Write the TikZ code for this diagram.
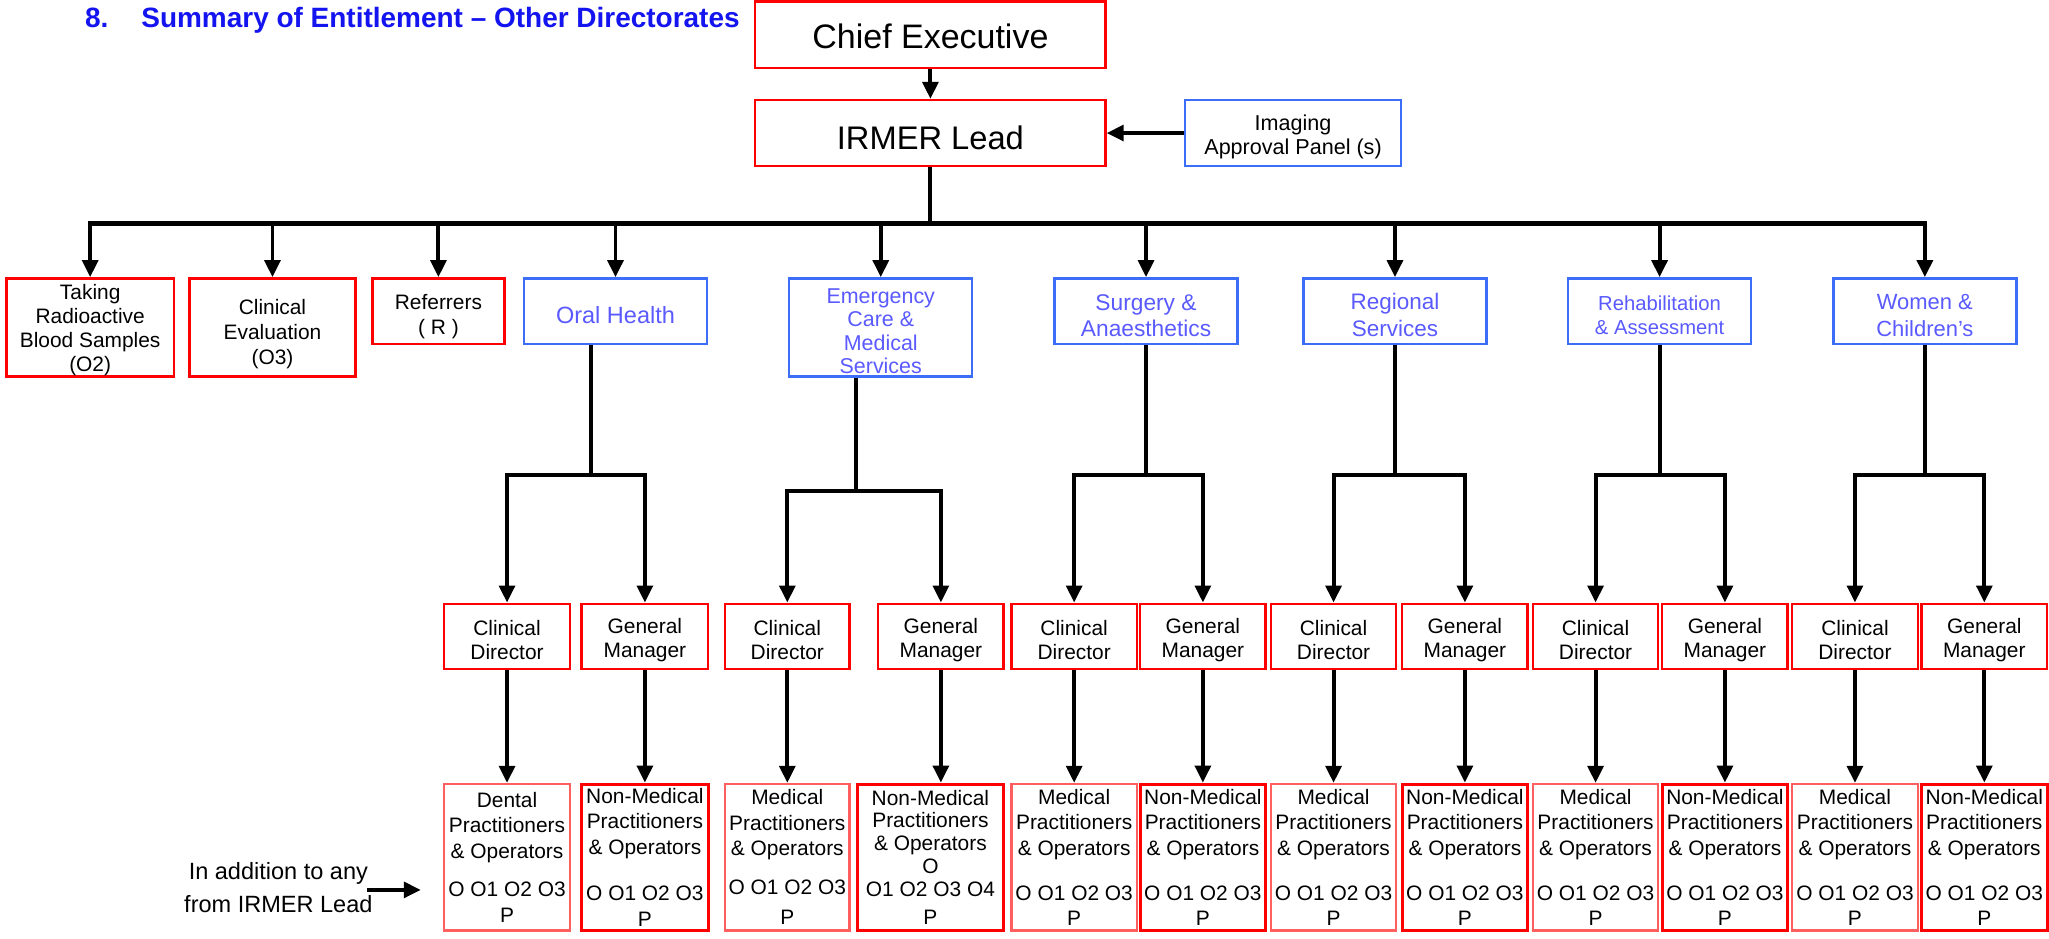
\documentclass[tikz,border=0pt]{standalone}
\usepackage{fontspec}
\setmainfont{Liberation Sans}
\usetikzlibrary{arrows.meta}
\definecolor{boxred}{RGB}{255,0,0}
\definecolor{lightred}{RGB}{255,95,95}
\definecolor{boxblue}{RGB}{60,110,250}
\definecolor{bluetext}{RGB}{90,90,255}
\definecolor{titleblue}{RGB}{20,20,240}
\newcommand\setfs[2]{\fontsize{#1}{#2}\selectfont}
\newcommand\dn[1]{\rule{0pt}{\dimexpr.75em+#1\relax}}
\begin{document}
\begin{tikzpicture}[x=1pt,y=-1pt,
 box/.style={draw, line width=1.8pt, inner sep=0pt, align=center, text=black},
 txtdown/.style={execute at begin node={\rule{0pt}{\dimexpr.75em+#1\relax}}},
 redbox/.style={box, draw=boxred},
 bluebox/.style={box, draw=boxblue, text=bluetext},
 lightbox/.style={box, draw=lightred},
 topbox/.style={minimum height=75pt},
 shortbox/.style={minimum height=50pt},
 dirbox/.style={bluebox, minimum width=140pt, shortbox},
 cgbox/.style={redbox, minimum width=96pt, minimum height=50pt, font=\setfs{16}{18.5}},
 botbox/.style={minimum width=96pt, minimum height=112pt, font=\setfs{16}{19.5}},
 medbox/.style={lightbox, botbox},
 nmbox/.style={redbox, botbox, line width=2.2pt},
 arr/.style={line width=3pt, -{Triangle[length=13pt,width=12pt]}},
 ln/.style={line width=3.1pt},
 busln/.style={line width=3.8pt},
]
\useasboundingbox (0,0) rectangle (1568,718);
\fill[white] (0,0) rectangle (1568,718);

% title
\node[anchor=base west, inner sep=0pt, font=\setfs{21.4}{24}\bfseries, text=titleblue] (num) at (65,21) {8.};
\node[anchor=base west, inner sep=0pt, font=\setfs{21.4}{24}\bfseries, text=titleblue] (title) at (108,21) {Summary of Entitlement – Other Directorates};

% top
\node[redbox, minimum width=268pt, minimum height=51pt, font=\setfs{26}{30}, txtdown=2pt] (chief) at (712,26.7) {Chief Executive};
\node[redbox, minimum width=268pt, minimum height=50.5pt, font=\setfs{25}{30}, txtdown=6pt] (irmer) at (712,101.8) {IRMER Lead};
\node[bluebox, text=black, minimum width=165pt, minimum height=50.5pt, font=\setfs{16.5}{18.5}] (imaging) at (989.5,101.8) {\dn{6pt}Imaging\\Approval Panel (s)};

\draw[arr] (chief.south) -- (irmer.north);
\draw[arr] (imaging.west) -- (irmer.east);

% first row
\node[redbox, topbox, minimum width=128pt, font=\setfs{16}{18.5}] (take) at (69,250.5) {\dn{3.5pt}Taking\\Radioactive\\Blood Samples\\(O2)};
\node[redbox, topbox, minimum width=127pt, font=\setfs{16}{19}] (clin) at (208.5,250.5) {\dn{10pt}Clinical\\Evaluation\\(O3)};
\node[redbox, shortbox, minimum width=101pt, font=\setfs{16}{19}] (ref) at (335.5,238) {\dn{8pt}Referrers\\( R )};
\node[dirbox, font=\setfs{18}{20}, txtdown=6pt] (oral) at (471,238) {Oral Health};
\node[bluebox, topbox, minimum width=140pt, font=\setfs{16.4}{18}] (emerg) at (674,250.5) {\dn{5pt}Emergency\\Care \&\\Medical\\Services};
\node[dirbox, font=\setfs{17.4}{20}] (surg) at (877,238) {\dn{6pt}Surgery \&\\Anaesthetics};
\node[dirbox, font=\setfs{17.2}{21}] (reg) at (1067.5,238) {\dn{6pt}Regional\\Services};
\node[dirbox, font=\setfs{15.5}{18}] (rehab) at (1270,238) {\dn{6pt}Rehabilitation\\\& Assessment};
\node[dirbox, font=\setfs{16.8}{21}] (women) at (1473,238) {\dn{6pt}Women \&\\Children’s};

% bus
\draw[ln] (irmer.south) -- ++(0,43) coordinate (bus);
\draw[busln] ([xshift=-1.5pt]take.north |- bus) -- ([xshift=1.5pt]women.north |- bus);
\foreach \n in {take,clin,ref,oral,emerg,surg,reg,rehab,women}
  \draw[arr] (\n.north |- bus) -- (\n.north);

% second row
\node[cgbox] (ocd) at (388,487) {\dn{5pt}Clinical\\Director};
\node[cgbox, minimum width=97pt] (ogm) at (493.5,487) {\dn{5pt}General\\Manager};
\node[cgbox, minimum width=95pt] (ecd) at (602.5,487) {\dn{5pt}Clinical\\Director};
\node[cgbox] (egm) at (720,487) {\dn{5pt}General\\Manager};
\node[cgbox] (scd) at (822,487) {\dn{5pt}Clinical\\Director};
\node[cgbox] (sgm) at (920.5,487) {\dn{5pt}General\\Manager};
\node[cgbox] (rcd) at (1020.5,487) {\dn{5pt}Clinical\\Director};
\node[cgbox] (rgm) at (1121,487) {\dn{5pt}General\\Manager};
\node[cgbox] (hcd) at (1221,487) {\dn{5pt}Clinical\\Director};
\node[cgbox] (hgm) at (1320,487) {\dn{5pt}General\\Manager};
\node[cgbox] (wcd) at (1419.5,487) {\dn{5pt}Clinical\\Director};
\node[cgbox] (wgm) at (1518.5,487) {\dn{5pt}General\\Manager};

% branches
\draw[ln] ([xshift=-19pt]oral.south) -- ++(0,99.7) coordinate (obr);
\draw[arr] (obr) -| (ocd.north);
\draw[arr] (obr) -| (ogm.north);
\draw[ln] ([xshift=-19pt]emerg.south) -- ++(0,87) coordinate (ebr);
\draw[arr] (ebr) -| (ecd.north);
\draw[arr] (ebr) -| (egm.north);
\draw[ln] (surg.south) -- ++(0,99.7) coordinate (sbr);
\draw[arr] (sbr) -| (scd.north);
\draw[arr] (sbr) -| (sgm.north);
\draw[ln] (reg.south) -- ++(0,99.7) coordinate (rbr);
\draw[arr] (rbr) -| (rcd.north);
\draw[arr] (rbr) -| (rgm.north);
\draw[ln] (rehab.south) -- ++(0,99.7) coordinate (hbr);
\draw[arr] (hbr) -| (hcd.north);
\draw[arr] (hbr) -| (hgm.north);
\draw[ln] (women.south) -- ++(0,99.7) coordinate (wbr);
\draw[arr] (wbr) -| (wcd.north);
\draw[arr] (wbr) -| (wgm.north);

% bottom row
\node[medbox] (odp) at (388,656) {Dental\\Practitioners\\\& Operators\\[10pt]O O1 O2 O3\\P};
\node[nmbox, minimum width=97pt] (onm) at (493.5,656) {Non-Medical\\Practitioners\\\& Operators\\[16pt]O O1 O2 O3\\P};
\node[medbox, minimum width=95pt] (emp) at (602.5,656) {Medical\\Practitioners\\\& Operators\\[10pt]O O1 O2 O3\\[4pt]P};
\node[nmbox, minimum width=112pt, font=\setfs{16}{17.5}] (enm) at (712,656) {Non-Medical\\Practitioners\\\& Operators\\O\\O1 O2 O3 O4\\[4pt]P};
\node[medbox] (smp) at (822,656) {Medical\\Practitioners\\\& Operators\\[15pt]O O1 O2 O3\\P};
\node[nmbox] (snm) at (920.5,656) {Non-Medical\\Practitioners\\\& Operators\\[15pt]O O1 O2 O3\\P};
\node[medbox] (rmp) at (1020.5,656) {Medical\\Practitioners\\\& Operators\\[15pt]O O1 O2 O3\\P};
\node[nmbox] (rnm) at (1121,656) {Non-Medical\\Practitioners\\\& Operators\\[15pt]O O1 O2 O3\\P};
\node[medbox] (hmp) at (1221,656) {Medical\\Practitioners\\\& Operators\\[15pt]O O1 O2 O3\\P};
\node[nmbox] (hnm) at (1320,656) {Non-Medical\\Practitioners\\\& Operators\\[15pt]O O1 O2 O3\\P};
\node[medbox] (wmp) at (1419.5,656) {Medical\\Practitioners\\\& Operators\\[15pt]O O1 O2 O3\\P};
\node[nmbox] (wnm) at (1518.5,656) {Non-Medical\\Practitioners\\\& Operators\\[15pt]O O1 O2 O3\\P};

\draw[arr] (ocd.south) -- (odp.north);
\draw[arr] (ogm.south) -- (onm.north);
\draw[arr] (ecd.south) -- (emp.north);
\draw[arr] (egm.south) -- (egm.south |- enm.north);
\draw[arr] (scd.south) -- (smp.north);
\draw[arr] (sgm.south) -- (snm.north);
\draw[arr] (rcd.south) -- (rmp.north);
\draw[arr] (rgm.south) -- (rnm.north);
\draw[arr] (hcd.south) -- (hmp.north);
\draw[arr] (hgm.south) -- (hnm.north);
\draw[arr] (wcd.south) -- (wmp.north);
\draw[arr] (wgm.south) -- (wnm.north);

% note
\node[inner sep=0pt, align=center, font=\setfs{18}{25}] (addl) at (213,679) {In addition to any\\from IRMER Lead};
\coordinate (addtip) at (322,681);
\draw[arr] ([xshift=-4pt]addl.east |- addtip) -- (addtip);
\end{tikzpicture}
\end{document}
